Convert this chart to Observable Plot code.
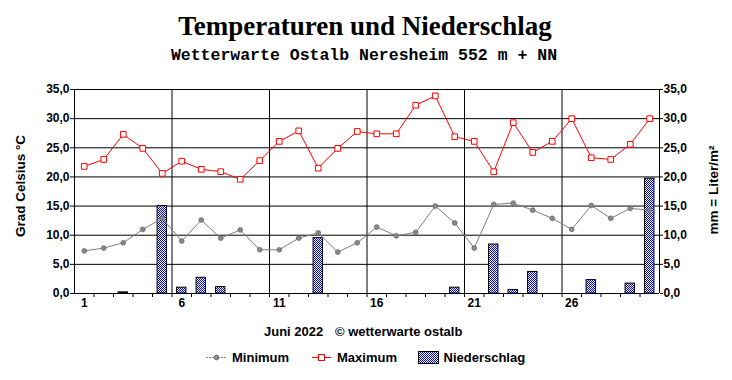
<!DOCTYPE html>
<html><head><meta charset="utf-8">
<script src="https://cdn.jsdelivr.net/npm/d3@7"></script>
<script src="https://cdn.jsdelivr.net/npm/@observablehq/plot@0.6"></script>
<style>
html,body{margin:0;padding:0;background:#fff;}
#chart{width:732px;height:380px;position:relative;}
</style></head><body><div id="chart"></div>
<script>
// ---- data (Juni 2022) ----
const days = [1,2,3,4,5,6,7,8,9,10,11,12,13,14,15,16,17,18,19,20,21,22,23,24,25,26,27,28,29,30];
const minTemp = [7.3,7.8,8.7,11.0,12.9,9.0,12.6,9.5,10.9,7.5,7.5,9.5,10.4,7.1,8.7,11.4,9.9,10.5,15.0,12.1,7.8,15.3,15.5,14.3,12.9,11.0,15.1,12.9,14.6,14.3];
const maxTemp = [21.8,23.0,27.3,24.9,20.6,22.7,21.3,20.9,19.6,22.8,26.1,27.9,21.5,24.9,27.8,27.4,27.4,32.3,33.9,26.9,26.1,20.9,29.3,24.2,26.1,30.0,23.3,23.0,25.6,30.0];
const rain = [0,0,0.2,0,15.0,1.0,2.7,1.1,0,0,0,0,9.5,0,0,0,0,0,0,1.0,0,8.4,0.6,3.7,0,0,2.3,0,1.7,19.7];
const yTicks = [0,5,10,15,20,25,30,35];
const xLabelDays = [1,6,11,16,21,26];
const weekBounds = [5.5,10.5,15.5,20.5,25.5];
const dayBounds = days.slice(0, 29).map(d => d + 0.5);

const titleText = "Temperaturen und Niederschlag";
const subtitleText = "Wetterwarte Ostalb Neresheim 552 m + NN";
const leftLabel = "Grad Celsius °C";
const rightLabel = "mm = Liter/m²";
const captionLeft = "Juni 2022";
const captionRight = "© wetterwarte ostalb";
const legendNames = ["Minimum", "Maximum", "Niederschlag"];

const rows = days.map((d, i) => ({day: d, min: minTemp[i], max: maxTemp[i], rain: rain[i]}));
const fmt = d => d.toFixed(1).replace(".", ",");
const half = 0.24;

const chart = Plot.plot({
  width: 732, height: 380,
  marginTop: 89, marginBottom: 87, marginLeft: 74, marginRight: 73,
  x: {domain: [0.5, 30.5], label: null},
  y: {domain: [0, 35], label: null},
  style: {fontFamily: "'Liberation Sans', Arial, sans-serif", fontSize: "12px", fontWeight: "bold", color: "black", background: "white"},
  marks: [
    Plot.ruleY(yTicks, {stroke: "black", strokeWidth: 1}),
    Plot.ruleX(weekBounds, {stroke: "black", strokeWidth: 1}),
    Plot.ruleX([0.5, 30.5], {stroke: "black", strokeWidth: 1}),
    Plot.rectY(rows.filter(r => r.rain > 0), {x1: r => r.day - half, x2: r => r.day + half, y: "rain", fill: "url(#dots)", stroke: "black", strokeWidth: 1}),
    Plot.line(rows, {x: "day", y: "min", stroke: "#808080", strokeWidth: 1}),
    Plot.dot(rows, {x: "day", y: "min", r: 2.4, fill: "#888888", stroke: "#6a6a6a", strokeWidth: 0.8}),
    Plot.line(rows, {x: "day", y: "max", stroke: "#ff0000", strokeWidth: 1}),
    Plot.dot(rows, {x: "day", y: "max", symbol: "square", r: 3.2, fill: "white", stroke: "#ff0000", strokeWidth: 1}),
    Plot.axisY({anchor: "left", ticks: yTicks, tickFormat: fmt, tickSize: 4, tickPadding: 1, label: null}),
    Plot.axisY({anchor: "right", ticks: yTicks, tickFormat: fmt, tickSize: 3, tickPadding: 1, label: null}),
    Plot.axisX({ticks: dayBounds, tickFormat: () => "", tickSize: 4, label: null}),
    Plot.axisX({ticks: xLabelDays, tickFormat: d => String(d), tickSize: 0, tickPadding: 5, label: null})
  ]
});
document.getElementById("chart").appendChild(chart);

const svg = d3.select(chart);
const defs = svg.insert("defs", ":first-child");
const pat = defs.append("pattern").attr("id", "dots").attr("patternUnits", "userSpaceOnUse")
  .attr("width", 2).attr("height", 2);
pat.append("rect").attr("width", 2).attr("height", 2).attr("fill", "white");
pat.append("rect").attr("x", 0).attr("y", 0).attr("width", 1).attr("height", 1).attr("fill", "#0000ff").attr("shape-rendering", "crispEdges");
pat.append("rect").attr("x", 1).attr("y", 1).attr("width", 1).attr("height", 1).attr("fill", "#0000ff").attr("shape-rendering", "crispEdges");

const g = svg.append("g").attr("fill", "black").attr("text-anchor", "start");
g.append("text").attr("x", 365).attr("y", 35).attr("text-anchor", "middle")
  .style("font-family", "'Liberation Serif', 'Times New Roman', serif").style("font-size", "27px").style("font-weight", "bold")
  .text(titleText);
g.append("text").attr("x", 364).attr("y", 59.5).attr("text-anchor", "middle")
  .style("font-family", "'Courier New', 'Liberation Mono', monospace").style("font-size", "16.5px").style("font-weight", "bold")
  .text(subtitleText);
g.append("text").attr("transform", "translate(24.5,186) rotate(-90)").attr("text-anchor", "middle")
  .style("font-size", "13.5px").text(leftLabel);
g.append("text").attr("transform", "translate(717.5,190) rotate(-90)").attr("text-anchor", "middle")
  .style("font-size", "13.5px").text(rightLabel);
g.append("text").attr("x", 264).attr("y", 336).attr("text-anchor", "start").style("font-size", "13px").text(captionLeft);
g.append("text").attr("x", 335).attr("y", 336).attr("text-anchor", "start").style("font-size", "13px").text(captionRight);

// legend
const lg = svg.append("g").attr("text-anchor", "start").attr("fill", "black");
lg.append("line").attr("x1", 206).attr("x2", 227).attr("y1", 357.5).attr("y2", 357.5).attr("stroke", "#808080").attr("stroke-dasharray", "2,1");
lg.append("circle").attr("cx", 216.5).attr("cy", 357.5).attr("r", 2.4).attr("fill", "#888").attr("stroke", "#6a6a6a").attr("stroke-width", 0.8);
lg.append("text").attr("x", 232).attr("y", 362).attr("text-anchor", "start").style("font-size", "13px").text(legendNames[0]);
lg.append("line").attr("x1", 312).attr("x2", 331).attr("y1", 357.5).attr("y2", 357.5).attr("stroke", "#ff0000");
lg.append("rect").attr("x", 318.5).attr("y", 354.5).attr("width", 6).attr("height", 6).attr("fill", "white").attr("stroke", "#ff0000");
lg.append("text").attr("x", 337).attr("y", 362).attr("text-anchor", "start").style("font-size", "13px").text(legendNames[1]);
lg.append("rect").attr("x", 418.5).attr("y", 351.5).attr("width", 20).attr("height", 12).attr("fill", "url(#dots)").attr("stroke", "black");
lg.append("text").attr("x", 443.5).attr("y", 362).attr("text-anchor", "start").style("font-size", "13px").text(legendNames[2]);
</script>
</body></html>
